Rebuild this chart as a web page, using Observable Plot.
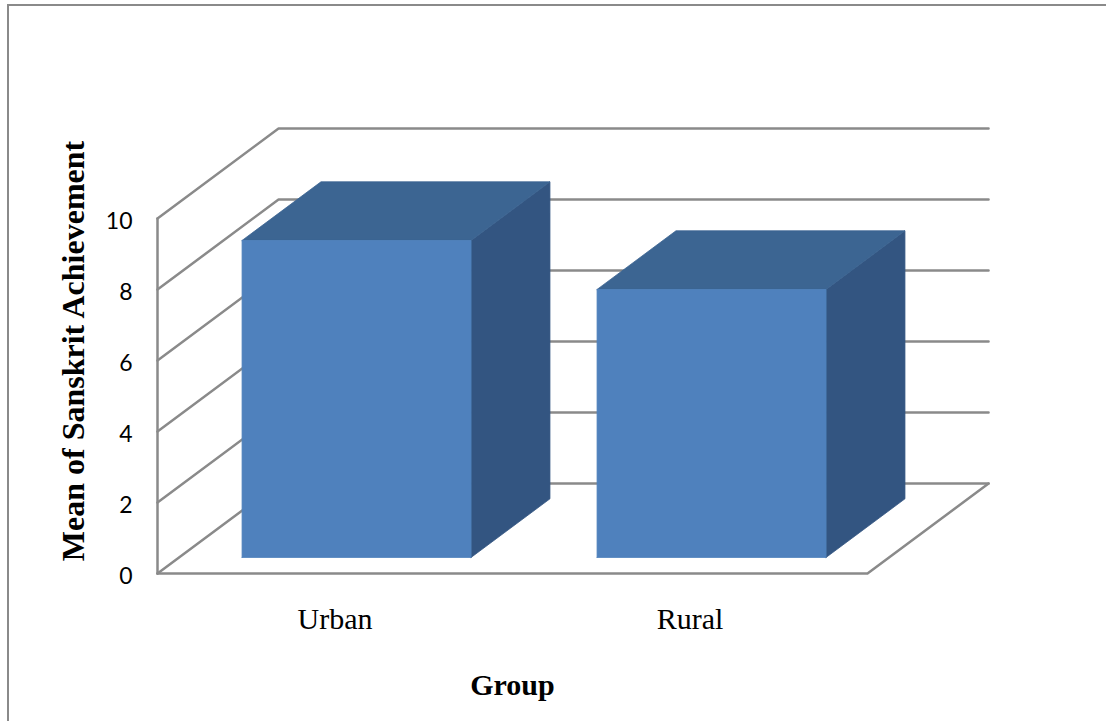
<!DOCTYPE html>
<html>
<head>
<meta charset="utf-8">
<script src="https://cdn.jsdelivr.net/npm/d3@7"></script>
<script src="https://cdn.jsdelivr.net/npm/@observablehq/plot@0.6"></script>
<style>
  html, body { margin: 0; padding: 0; background: #fff; overflow: hidden; }
  #wrap { position: relative; width: 1106px; height: 721px; }
  #edge { position: absolute; left: 7px; top: 4px; width: 1120px; height: 740px;
          border-left: 2px solid #8a8a8a; border-top: 2px solid #8a8a8a; pointer-events: none; }
  #chart { position: absolute; left: 0; top: 0; }
</style>
</head>
<body>
<div id="wrap"><div id="chart"></div><div id="edge"></div></div>
<script>
// Mean Sanskrit achievement score by group
const categories = ["Urban", "Rural"];
const means = [8.93, 7.55];
const yTicks = [0, 2, 4, 6, 8, 10];
const yTitle = "Mean of Sanskrit Achievement";
const xTitle = "Group";

// Oblique 3-D look: how far the back plane sits from the front plane,
// expressed in category units (x) and value units (y).
const DEPTH_X = 0.341;
const DEPTH_Y = 2.535;
const BAR_W = 0.645;          // bar width as a share of a category band
const F0 = 0.178, F1 = 0.83;  // front and back of each bar, as a share of depth
const yMax = yTicks[yTicks.length - 1];
const nCat = categories.length;

const P = (x, y, f) => ({x: x + f * DEPTH_X, y: y + f * DEPTH_Y});

// Walls: left-wall diagonals joined to back-wall gridlines, one per tick
const grid = yTicks.flatMap((t) =>
  [P(0, t, 0), P(0, t, 1), P(nCat, t, 1)].map((p) => ({...p, id: t}))
);
// Floor front and right edges, plus the front edge of the left wall
const edges = [
  ...[P(0, 0, 0), P(nCat, 0, 0), P(nCat, 0, 1)].map((p) => ({...p, id: "floor"})),
  ...[P(0, 0, 0), P(0, yMax, 0)].map((p) => ({...p, id: "wall"}))
];

// Three visible faces of every column
const faces = {front: [], top: [], side: []};
categories.forEach((c, i) => {
  const v = means[i];
  const x0 = i + 0.5 - BAR_W / 2, x1 = i + 0.5 + BAR_W / 2;
  const poly = {
    front: [P(x0, 0, F0), P(x1, 0, F0), P(x1, v, F0), P(x0, v, F0)],
    top:   [P(x0, v, F0), P(x1, v, F0), P(x1, v, F1), P(x0, v, F1)],
    side:  [P(x1, 0, F0), P(x1, 0, F1), P(x1, v, F1), P(x1, v, F0)]
  };
  for (const k in poly) {
    const pts = [...poly[k], poly[k][0]];
    pts.forEach((p) => faces[k].push({...p, id: c}));
  }
});

const faceColor = {front: "#4f81bd", top: "#3c6592", side: "#335581"};
const gridColor = "#8a8a8a";
const serif = "'Liberation Serif', 'Times New Roman', serif";

const chart = Plot.plot({
  width: 1106,
  height: 721,
  marginLeft: 157,
  marginRight: 239,
  marginTop: 218,
  marginBottom: 148,
  x: {domain: [0, nCat], axis: null},
  y: {domain: [0, yMax], axis: null},
  style: {background: "transparent", fontFamily: "Lato, sans-serif"},
  marks: [
    Plot.line(grid, {x: "x", y: "y", z: "id", stroke: gridColor, strokeWidth: 2.5, curve: "linear"}),
    Plot.line(edges, {x: "x", y: "y", z: "id", stroke: gridColor, strokeWidth: 2.5, curve: "linear"}),
    ...["side", "top", "front"].map((k) =>
      Plot.line(faces[k], {x: "x", y: "y", z: "id", fill: faceColor[k], stroke: faceColor[k],
                           strokeWidth: 0.8, curve: "linear"})
    ),
    Plot.axisY({ticks: yTicks, tickSize: 0, tickPadding: 25, dy: 3, fontSize: 23,
                fontFamily: "Lato, sans-serif", fill: "#000", label: null, tickFormat: (d) => `${d}`}),
    Plot.text(categories, {x: (d, i) => i + 0.5, frameAnchor: "bottom", dy: 46, lineAnchor: "middle",
                           fontSize: 30, fontFamily: serif, fill: "#000"}),
    Plot.text([xTitle], {x: () => nCat / 2, frameAnchor: "bottom", dy: 112, lineAnchor: "middle",
                         fontSize: 30, fontWeight: "bold", fontFamily: serif, fill: "#000"}),
    Plot.text([yTitle], {y: () => (yMax + DEPTH_Y) / 2, frameAnchor: "left", dx: -84, rotate: -90,
                         textAnchor: "middle", lineAnchor: "middle", fontSize: 32, fontWeight: "bold",
                         fontFamily: serif, fill: "#000"})
  ]
});
document.getElementById("chart").append(chart);
</script>
</body>
</html>
